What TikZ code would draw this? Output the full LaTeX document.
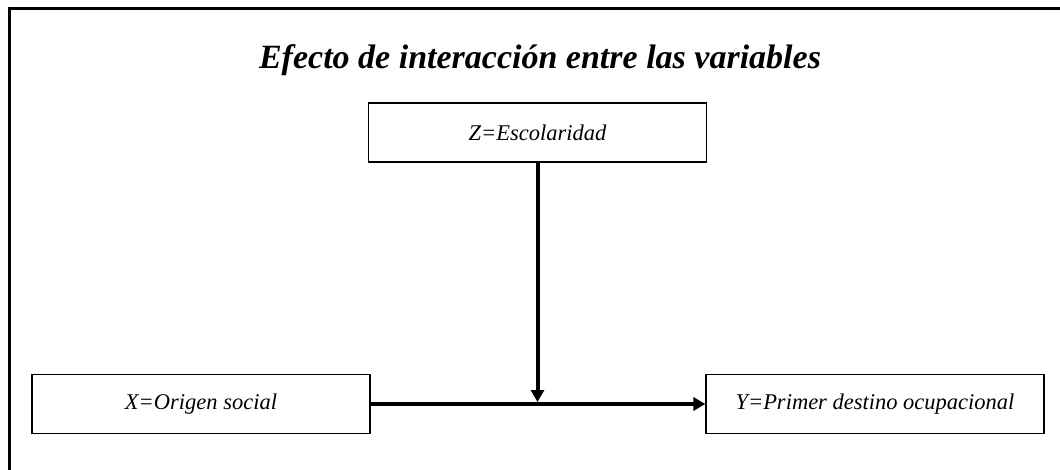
\documentclass[tikz,border=0pt]{standalone}
\usepackage{fontspec}
\setmainfont{Liberation Serif}
\usetikzlibrary{arrows.meta}

\tikzset{
  varbox/.style={draw,line width=1.2pt,minimum width=338pt,minimum height=59pt,
                 inner sep=0pt,font=\fontsize{22.5}{27}\selectfont\itshape},
  flecha/.style={line width=4pt,-{Triangle[length=12pt,width=13pt]}}
}

\begin{document}
\begin{tikzpicture}[x=1pt,y=-1pt]
            \useasboundingbox (0,0) rectangle (1060,470);
            \draw[line width=3.5pt] (9.5,470) -- (9.5,8.5) -- (1060,8.5);

            \node[anchor=base,font=\fontsize{34}{40}\selectfont\bfseries\itshape] (titulo) at (540,69)
                {Efecto de interacción entre las variables};
            \node[varbox] (z) at (537.5,132.5) {Z=Escolaridad};
            \node[varbox] (x) at (201,404)     {X=Origen social};
            \node[varbox] (y) at (875,404)     {Y=Primer destino ocupacional};

            \coordinate (cruce) at (z.south |- x.east);
            \draw[flecha] (x.east) -- (y.west);
            \draw[flecha,shorten >=2pt] (z.south) -- (cruce);
\end{tikzpicture}
\end{document}
